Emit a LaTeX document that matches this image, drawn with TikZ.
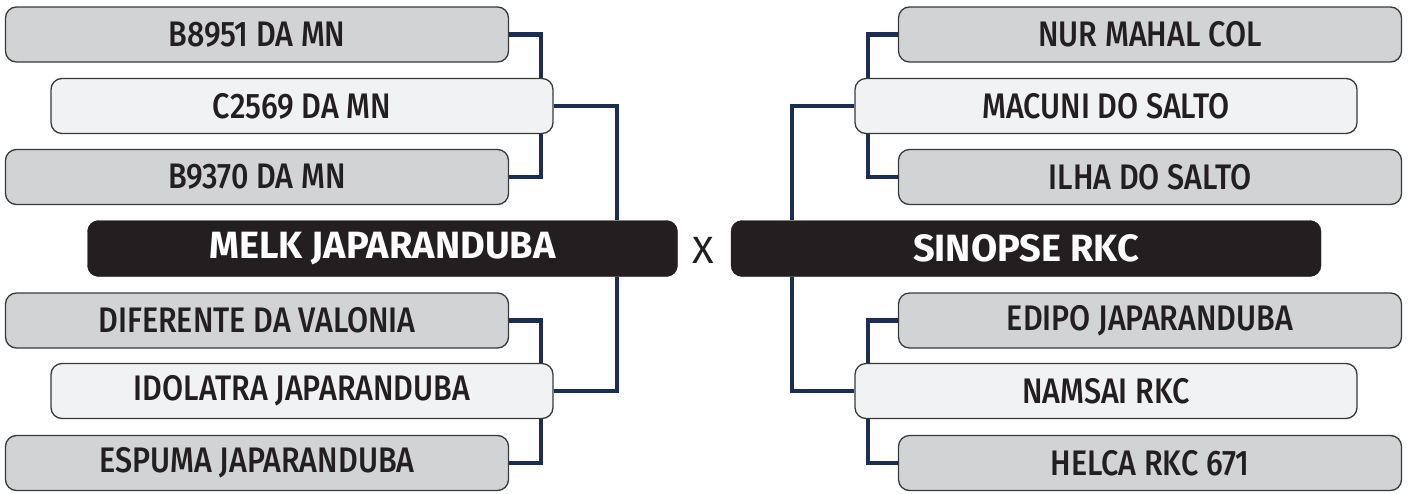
\documentclass[tikz,border=0pt]{standalone}
\usepackage{fontspec}
\setmainfont{Fira Sans}
\newfontfamily\lblfont[FakeStretch=0.86]{Fira Sans Medium}
\newfontfamily\headfont{Fira Sans}
\newfontfamily\vsfont[FakeStretch=1.05]{Fira Sans}
\usetikzlibrary{backgrounds}
\definecolor{greyfill}{HTML}{D1D3D4}
\definecolor{lightfill}{HTML}{F1F2F3}
\definecolor{darkbox}{HTML}{231F20}
\definecolor{navy}{HTML}{1B2D55}
\definecolor{edge}{HTML}{3A3A3A}
\tikzset{
  teambox/.style={draw=edge, line width=1.3pt, rounded corners=11pt, inner sep=0pt,
     minimum height=55pt, text=darkbox, font=\lblfont\fontsize{35.5}{35.5}\selectfont},
  outerbox/.style={teambox, fill=greyfill, minimum width=503pt},
  innerbox/.style={teambox, fill=lightfill, minimum width=502pt},
  finalbox/.style={fill=darkbox, draw=darkbox, rounded corners=11pt, inner sep=0pt,
     minimum width=590pt, minimum height=56pt, text=white,
     font=\headfont\bfseries\fontsize{38}{38}\selectfont},
  vsmark/.style={text=darkbox, inner sep=0pt, font=\vsfont\fontsize{38}{38}\selectfont},
  conn/.style={draw=navy, line width=4.3pt}
}
\begin{document}
\begin{tikzpicture}[x=1pt,y=-1pt]
\useasboundingbox (0,0) rectangle (1410,493);
% left bracket
\node[outerbox] (a1) at (257,34.5) {B8951 DA MN};
\node[innerbox] (a2) at (302,106) {C2569 DA MN};
\node[outerbox] (a3) at (257,177) {B9370 DA MN};
\node[finalbox] (melk) at (382.5,248.5) {MELK JAPARANDUBA};
\node[outerbox] (a4) at (257,320.5) {DIFERENTE DA VALONIA};
\node[innerbox] (a5) at (302,391) {IDOLATRA JAPARANDUBA};
\node[outerbox] (a6) at (257,463) {ESPUMA JAPARANDUBA};
% right bracket
\node[outerbox] (b1) at (1150,34.5) {NUR MAHAL COL};
\node[innerbox] (b2) at (1106,106) {MACUNI DO SALTO};
\node[outerbox] (b3) at (1150,177) {ILHA DO SALTO};
\node[finalbox] (sin) at (1026,248.5) {SINOPSE RKC};
\node[outerbox] (b4) at (1150,320.5) {EDIPO JAPARANDUBA};
\node[innerbox] (b5) at (1106,391) {NAMSAI RKC};
\node[outerbox] (b6) at (1150,463) {HELCA RKC 671};
% versus mark
\node[vsmark] (vs) at (703.5,250.5) {X};
% connector columns
\coordinate (xl1) at (541,0);
\coordinate (xl2) at (617,0);
\coordinate (xr1) at (868,0);
\coordinate (xr2) at (792,0);
\begin{pgfonlayer}{background}
\draw[conn] (a1.east) -| (a2.north -| xl1);
\draw[conn] (a3.east) -| (a2.south -| xl1);
\draw[conn] (a2.east) -| (melk.north -| xl2);
\draw[conn] (a4.east) -| (a5.north -| xl1);
\draw[conn] (a6.east) -| (a5.south -| xl1);
\draw[conn] (a5.east) -| (melk.south -| xl2);
\draw[conn] (b1.west) -| (b2.north -| xr1);
\draw[conn] (b3.west) -| (b2.south -| xr1);
\draw[conn] (b2.west) -| (sin.north -| xr2);
\draw[conn] (b4.west) -| (b5.north -| xr1);
\draw[conn] (b6.west) -| (b5.south -| xr1);
\draw[conn] (b5.west) -| (sin.south -| xr2);
\end{pgfonlayer}
\end{tikzpicture}
\end{document}
